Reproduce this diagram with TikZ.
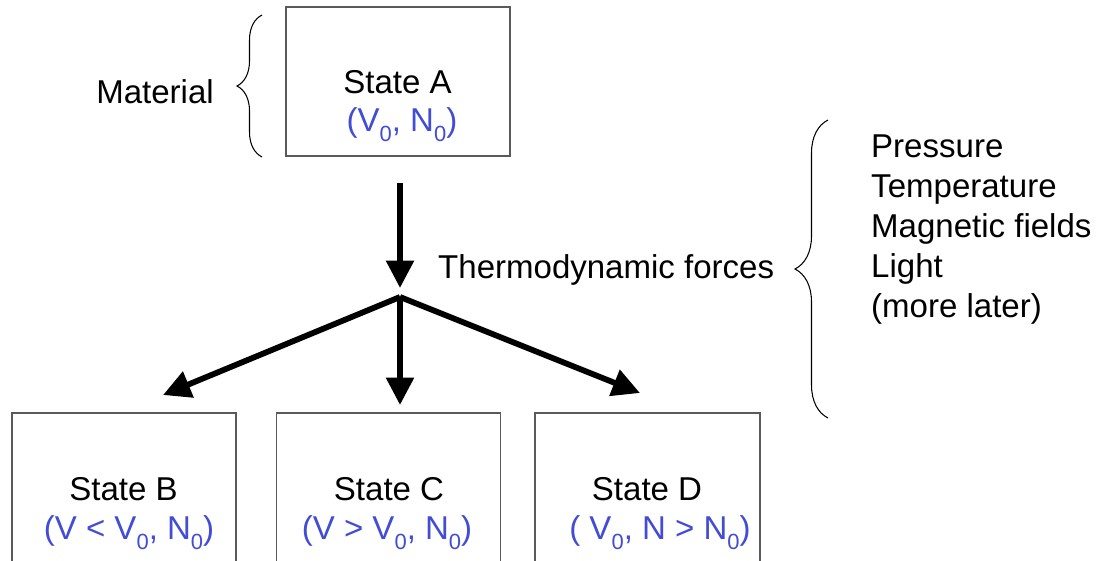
\documentclass[tikz,border=0pt]{standalone}
\usepackage{fontspec}
\setmainfont{Liberation Sans}
\usepackage{tikz}
\usetikzlibrary{arrows.meta,decorations.pathreplacing}
\definecolor{bleuetat}{RGB}{66,76,212}
\definecolor{bord}{RGB}{90,90,90}
\newcommand{\indice}[1]{\raisebox{-6pt}{\fontsize{12.5}{12.5}\selectfont #1}}

\begin{document}
\begin{tikzpicture}[x=0.02cm,y=-0.02cm,
    font=\fontsize{18.8}{22}\selectfont,
    etat/.style={draw=bord,line width=0.7pt,minimum width=4.48cm,inner sep=0pt},
    force/.style={line width=3.3pt,-{Triangle[length=0.55cm,width=0.54cm]}},
    accolade/.style={decorate,decoration={brace,amplitude=#1},line width=0.6pt}]
  \useasboundingbox (0,0) rectangle (1103,561);
  \clip (0,0) rectangle (1103,561);
  % boites
  \node[etat,minimum height=2.98cm] (stateA) at (398,81.5) {};
  \node[etat,minimum height=4cm] (stateB) at (124,513) {};
  \node[etat,minimum height=4cm] (stateC) at (388.5,513) {};
  \node[etat,minimum height=4cm,minimum width=4.5cm] (stateD) at (647.5,513) {};
  % textes des etats
  \node[anchor=base] (nomA) at (397.5,93) {State A};
  \node[anchor=base,bleuetat] (varA) at (402,131) {(V\indice{0}, N\indice{0})};
  \node[anchor=base] (nomB) at (123.5,500) {State B};
  \node[anchor=base,bleuetat] (varB) at (129,539) {(V < V\indice{0}, N\indice{0})};
  \node[anchor=base] (nomC) at (389,500) {State C};
  \node[anchor=base,bleuetat] (varC) at (387,539) {(V > V\indice{0}, N\indice{0})};
  \node[anchor=base] (nomD) at (647,500) {State D};
  \node[anchor=base,bleuetat] (varD) at (660,539) {( V\indice{0}, N > N\indice{0})};
  % fleches
  \coordinate (split) at (400,297);
  \coordinate (tipB) at (163,395);
  \coordinate (tipC) at (400,405);
  \coordinate (tipD) at (640,393);
  \draw[force,shorten <=0.52cm,shorten >=0.18cm] (stateA.south -| split) -- (split);
  \draw[force] (split) -- (tipB);
  \draw[force] (split) -- (tipC);
  \draw[force] (split) -- (tipD);
  % accolades
  \draw[accolade=0.5cm] (262,157) -- (262,15);
  \draw[accolade=0.66cm] (828,418) -- (828,120);
  \node[anchor=base] (materiau) at (155,103.5) {Material};
  \node[anchor=base west] (thermo) at (432,278) {Thermodynamic forces};
  \foreach \t [count=\i from 0] in {Pressure,Temperature,Magnetic fields,Light,(more later)}
    \node[anchor=base west] (liste\i) at (865,157+40*\i) {\t};
\end{tikzpicture}
\end{document}
